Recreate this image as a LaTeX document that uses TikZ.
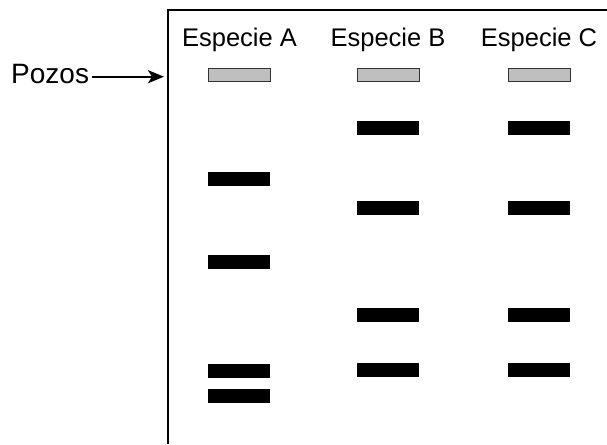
\documentclass[tikz,border=0pt]{standalone}
\usepackage{fontspec}
\setmainfont{Liberation Sans}
\usetikzlibrary{arrows.meta}
\begin{document}
\begin{tikzpicture}[x=1pt,y=-1pt,
  lbl/.style={inner sep=0pt,font=\fontsize{25.5}{30}\selectfont},
  biglbl/.style={inner sep=0pt,font=\fontsize{28}{32}\selectfont},
  well/.style={draw=black!80,line width=0.8pt,fill=black!25,minimum width=62pt,minimum height=13pt,inner sep=0pt},
  band/.style={fill=black,minimum width=62pt,minimum height=14pt,inner sep=0pt},
  gel/.style={line width=2.5pt}]
\useasboundingbox (0,0) rectangle (607,444);
% gel outline (left and top edges)
\draw[gel] (168,444) -- (168,10) -- (608,10);
% lane titles
\node[lbl,anchor=base] (tA) at (239.5,46.5) {Especie A};
\node[lbl,anchor=base] (tB) at (388,46.5) {Especie B};
\node[lbl,anchor=base] (tC) at (539,46.5) {Especie C};
% wells
\node[well] (wA) at (239,74.5) {};
\node[well] (wB) at (388,74.5) {};
\node[well] (wC) at (539,74.5) {};
% label and arrow pointing at the wells
\node[biglbl,anchor=base west] (poz) at (11,83.3) {Pozos};
\coordinate (tip) at (164,76.7);
\draw[line width=2pt,-{Stealth[length=16pt,width=13pt,inset=4pt]}] ([xshift=3pt]poz.east |- tip) -- (tip);
% lane A bands
\node[band] (a1) at (239,179) {};
\node[band] (a2) at (239,262) {};
\node[band] (a3) at (239,370.5) {};
\node[band] (a4) at (239,395.5) {};
% lane B bands
\node[band] (b1) at (388,127.5) {};
\node[band] (b2) at (388,208) {};
\node[band] (b3) at (388,315) {};
\node[band] (b4) at (388,370) {};
% lane C bands
\node[band] (c1) at (539,127.5) {};
\node[band] (c2) at (539,208) {};
\node[band] (c3) at (539,315) {};
\node[band] (c4) at (539,369.5) {};
\end{tikzpicture}
\end{document}
